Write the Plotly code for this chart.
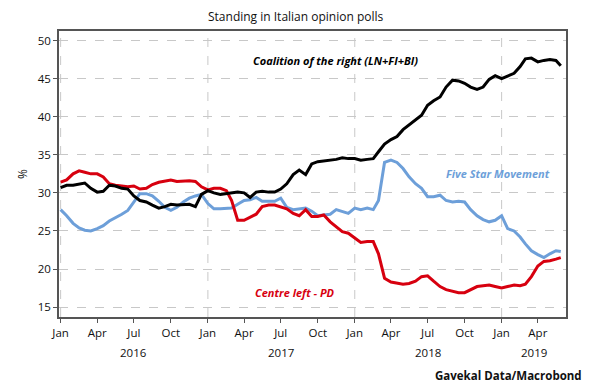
import plotly.graph_objects as go

dates = [
    "2016-01-01", "2016-01-16", "2016-02-01", "2016-02-16", "2016-03-01", "2016-03-16",
    "2016-04-01", "2016-04-16", "2016-05-01", "2016-05-16", "2016-06-01", "2016-06-16",
    "2016-07-01", "2016-07-16", "2016-08-01", "2016-08-16", "2016-09-01", "2016-09-16",
    "2016-10-01", "2016-10-16", "2016-11-01", "2016-11-16", "2016-12-01", "2016-12-16",
    "2017-01-01", "2017-01-16", "2017-02-01", "2017-02-16", "2017-03-01", "2017-03-16",
    "2017-04-01", "2017-04-16", "2017-05-01", "2017-05-16", "2017-06-01", "2017-06-16",
    "2017-07-01", "2017-07-16", "2017-08-01", "2017-08-16", "2017-09-01", "2017-09-16",
    "2017-10-01", "2017-10-16", "2017-11-01", "2017-11-16", "2017-12-01", "2017-12-16",
    "2018-01-01", "2018-01-16", "2018-02-01", "2018-02-16", "2018-03-01", "2018-03-16",
    "2018-04-01", "2018-04-16", "2018-05-01", "2018-05-16", "2018-06-01", "2018-06-16",
    "2018-07-01", "2018-07-16", "2018-08-01", "2018-08-16", "2018-09-01", "2018-09-16",
    "2018-10-01", "2018-10-16", "2018-11-01", "2018-11-16", "2018-12-01", "2018-12-16",
    "2019-01-01", "2019-01-16", "2019-02-01", "2019-02-16", "2019-03-01", "2019-03-16",
    "2019-04-01", "2019-04-16", "2019-05-01", "2019-05-16", "2019-05-28",
]

coalition_right = [
    30.7, 31.0, 31.0, 31.2, 31.3, 30.6, 30.1, 30.2, 31.0, 30.9, 30.6, 30.5,
    29.6, 29.0, 28.8, 28.4, 28.0, 28.2, 28.5, 28.4, 28.5, 28.5, 28.2, 29.8,
    30.3, 30.0, 29.8, 29.9, 30.0, 30.1, 30.0, 29.4, 30.1, 30.2, 30.1, 30.1,
    30.5, 31.2, 32.4, 33.0, 32.4, 33.8, 34.1, 34.2, 34.3, 34.4, 34.6, 34.5,
    34.5, 34.3, 34.4, 34.5, 35.4, 36.4, 37.0, 37.4, 38.3, 38.9, 39.6, 40.2,
    41.5, 42.1, 42.6, 43.9, 44.8, 44.7, 44.4, 43.9, 43.6, 43.9, 44.9, 45.4,
    45.0, 45.3, 45.7, 46.6, 47.6, 47.7, 47.2, 47.4, 47.5, 47.4, 46.7,
]

five_star = [
    27.8, 27.0, 26.0, 25.4, 25.1, 25.0, 25.3, 25.7, 26.3, 26.7, 27.2, 27.7,
    28.8, 29.9, 29.9, 29.6, 28.9, 28.1, 27.7, 28.1, 28.8, 29.3, 29.6, 29.8,
    28.6, 27.9, 27.9, 28.0, 28.0, 28.5, 29.0, 29.1, 29.4, 28.9, 28.9, 28.9,
    29.3, 28.1, 27.8, 27.9, 28.0, 27.6, 27.0, 27.1, 27.2, 27.8, 27.6, 27.3,
    28.0, 27.8, 28.0, 27.8, 29.0, 34.0, 34.3, 34.0, 33.2, 32.1, 31.2, 30.6,
    29.5, 29.5, 29.7, 29.0, 28.8, 28.9, 28.8, 27.8, 27.0, 26.5, 26.2, 26.4,
    27.0, 25.3, 25.0, 24.2, 23.3, 22.4, 21.9, 21.5, 22.0, 22.4, 22.3,
]

centre_left = [
    31.4, 31.7, 32.5, 32.9, 32.7, 32.5, 32.5, 32.1, 31.2, 31.0, 30.9, 30.8,
    30.9, 30.5, 30.6, 31.1, 31.4, 31.6, 31.7, 31.5, 31.6, 31.6, 31.5, 30.8,
    30.4, 30.6, 30.6, 30.3, 29.0, 26.4, 26.4, 26.8, 27.2, 28.2, 28.4, 28.4,
    28.2, 27.9, 27.3, 27.0, 27.8, 26.9, 26.9, 27.1, 26.2, 25.5, 24.9, 24.7,
    24.1, 23.5, 23.6, 23.6, 22.0, 18.8, 18.3, 18.1, 18.0, 18.1, 18.4, 19.0,
    19.1, 18.4, 17.7, 17.3, 17.1, 16.9, 16.9, 17.3, 17.7, 17.8, 17.9, 17.7,
    17.5, 17.7, 17.9, 17.8, 18.0, 19.0, 20.4, 21.0, 21.1, 21.3, 21.5,
]

tick_dates = [
    "2016-01-01", "2016-04-01", "2016-07-01", "2016-10-01",
    "2017-01-01", "2017-04-01", "2017-07-01", "2017-10-01",
    "2018-01-01", "2018-04-01", "2018-07-01", "2018-10-01",
    "2019-01-01", "2019-04-01",
]
tick_labels = ["Jan", "Apr", "Jul", "Oct"] * 3 + ["Jan", "Apr"]
year_gridlines = ["2016-01-01", "2017-01-01", "2018-01-01", "2019-01-01"]
year_labels = ["2016", "2017", "2018", "2019"]
year_label_pos = ["2016-07-01", "2017-07-01", "2018-07-01", "2019-03-22"]
y_ticks = [15, 20, 25, 30, 35, 40, 45, 50]

BLACK = "#000000"
RED = "#d7000f"
BLUE = "#6d9fd9"
FONT = "Open Sans"

fig = go.Figure()
fig.add_trace(go.Scatter(x=dates, y=five_star, mode="lines",
                         line=dict(color=BLUE, width=3), name="Five Star Movement"))
fig.add_trace(go.Scatter(x=dates, y=centre_left, mode="lines",
                         line=dict(color=RED, width=3), name="Centre left - PD"))
fig.add_trace(go.Scatter(x=dates, y=coalition_right, mode="lines",
                         line=dict(color=BLACK, width=3), name="Coalition of the right (LN+FI+BI)"))

for d in year_gridlines:
    fig.add_shape(type="line", xref="x", yref="paper", x0=d, x1=d, y0=0, y1=1,
                  line=dict(color="#c8c8c8", width=1, dash="dash"), layer="below")

annotations = [
    dict(text="Standing in Italian opinion polls", xref="paper", yref="paper",
         x=0.468, y=1.05, showarrow=False, font=dict(size=12, color="#111", family=FONT),
         xanchor="center", yanchor="middle"),
    dict(text="<b><i>Coalition of the right (LN+FI+BI)</i></b>", xref="paper", yref="paper",
         x=0.546, y=0.898, showarrow=False, font=dict(size=11, color=BLACK, family=FONT),
         xanchor="center", yanchor="middle"),
    dict(text="<b><i>Five Star Movement</i></b>", xref="paper", yref="paper",
         x=0.866, y=0.503, showarrow=False, font=dict(size=11, color=BLUE, family=FONT),
         xanchor="center", yanchor="middle"),
    dict(text="<b><i>Centre left - PD</i></b>", xref="paper", yref="paper",
         x=0.465, y=0.084, showarrow=False, font=dict(size=11, color=RED, family=FONT),
         xanchor="center", yanchor="middle"),
    dict(text="<b>Gavekal Data/Macrobond</b>", xref="paper", yref="paper",
         x=1.036, y=-0.205, showarrow=False, font=dict(size=11.5, color="#111", family=FONT),
         xanchor="right", yanchor="middle"),
]
for yl, yp in zip(year_labels, year_label_pos):
    annotations.append(dict(text=yl, xref="x", yref="paper", x=yp, y=-0.124,
                            showarrow=False, font=dict(size=11.5, color="#111", family=FONT),
                            xanchor="center", yanchor="middle"))

fig.update_layout(
    width=592, height=381,
    margin=dict(l=51, r=34, t=23, b=72),
    paper_bgcolor="white", plot_bgcolor="white",
    showlegend=False,
    font=dict(family=FONT, size=11.5, color="#111"),
    annotations=annotations,
    xaxis=dict(
        type="date", range=["2015-12-28", "2019-06-10"],
        tickmode="array", tickvals=tick_dates, ticktext=tick_labels,
        showgrid=False, showline=True, linecolor="#555", linewidth=1.5, mirror=True,
        ticks="outside", ticklen=4, tickcolor="#555", zeroline=False,
    ),
    yaxis=dict(
        range=[13.7, 51.26], tickmode="array", tickvals=y_ticks,
        showgrid=True, gridcolor="#c8c8c8", griddash="dash", gridwidth=1,
        showline=True, linecolor="#555", linewidth=1.5, mirror=True,
        ticks="outside", ticklen=4, tickcolor="#555", zeroline=False,
        title=dict(text="%", standoff=8, font=dict(size=12)),
    ),
)

fig.write_html("out.html")
